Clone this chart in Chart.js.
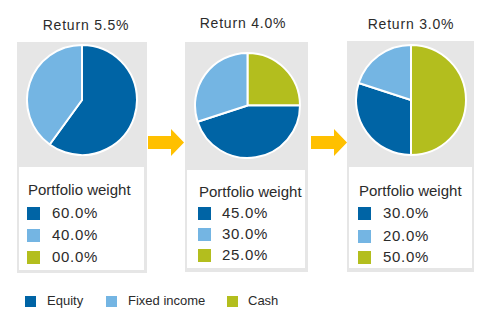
<!DOCTYPE html>
<html>
<head>
<meta charset="utf-8">
<script src="https://cdn.jsdelivr.net/npm/chart.js@4.4.0/dist/chart.umd.min.js"></script>
<style>
	body { margin: 0; background: #fff; font-family: 'Liberation Sans', Arial, sans-serif; color: #2b2b2b; }
	#stage { position: relative; width: 500px; height: 330px; overflow: hidden; }
	.abs { position: absolute; }
	.panel { position: absolute; background: #e6e6e6; }
	.inner { position: absolute; background: #fff; }
	.title { position: absolute; width: 140px; text-align: center; font-size: 14px; letter-spacing: 0.8px; line-height: 18px; }
	.heading { position: absolute; font-size: 15px; line-height: 18px; white-space: nowrap; }
	.sw { position: absolute; width: 13px; height: 13px; }
	.val { position: absolute; font-size: 15px; letter-spacing: 0.7px; line-height: 18px; }
	.leg-sw { position: absolute; width: 11px; height: 11px; }
	.leg-txt { position: absolute; font-size: 13px; line-height: 16px; white-space: nowrap; }
	canvas { position: absolute; }
</style>
</head>
<body>
<div id="stage"></div>
<script>
// Data
const categories = ['Equity', 'Fixed income', 'Cash'];
const colors = ['#0064a5', '#74b5e3', '#b3be1e'];
const returns = ['Return 5.5%', 'Return 4.0%', 'Return 3.0%'];
const equityWeights = [60, 45, 30];
const fixedWeights = [40, 30, 20];
const cashWeights = [0, 25, 50];
const weightLabels = [
	['60.0%', '40.0%', '00.0%'],
	['45.0%', '30.0%', '25.0%'],
	['30.0%', '20.0%', '50.0%']
];
// Slices go clockwise from 12 o'clock: cash, equity, fixed income.
const sliceOrder = [2, 0, 1];

// Layout of each panel (gray box, inner white box, pie, texts).
const layout = [
	{ box: [17, 42, 130, 231], inner: [19, 167, 125, 103], pie: [26, 44, 112], title: [86, 25], head: [28, 190], sw: 27, txt: 52, rows: [213, 235, 257] },
	{ box: [185, 42, 123, 230], inner: [187, 170, 118, 98], pie: [194, 52, 107], title: [243, 23], head: [199, 192], sw: 198, txt: 222, rows: [213, 234, 255] },
	{ box: [347, 41, 127, 231], inner: [349, 167, 123, 101], pie: [355, 44, 112], title: [411, 24], head: [359, 191], sw: 358, txt: 383, rows: [213, 236, 257] }
];

const stage = document.getElementById('stage');

function el(cls, x, y, w, h) {
	const d = document.createElement('div');
	d.className = cls;
	d.style.left = x + 'px';
	d.style.top = y + 'px';
	if (w != null) d.style.width = w + 'px';
	if (h != null) d.style.height = h + 'px';
	stage.appendChild(d);
	return d;
}

function arrow(x, y) {
	// Shaft plus triangular head, tip at x + 36.
	const svg = document.createElementNS('http://www.w3.org/2000/svg', 'svg');
	svg.setAttribute('width', 40);
	svg.setAttribute('height', 30);
	svg.style.position = 'absolute';
	svg.style.left = x + 'px';
	svg.style.top = y + 'px';
	const p = document.createElementNS('http://www.w3.org/2000/svg', 'polygon');
	p.setAttribute('points', '0,7 23,7 23,0 36,13.5 23,27 23,20 0,20');
	p.setAttribute('fill', '#ffc000');
	svg.appendChild(p);
	stage.appendChild(svg);
}

const weights = [equityWeights, fixedWeights, cashWeights];

layout.forEach((L, i) => {
	el('panel', ...L.box);
	el('inner', ...L.inner);

	const t = el('title', L.title[0] - 70, L.title[1] - 9);
	t.textContent = returns[i];

	const h = el('heading', L.head[0], L.head[1] - 9);
	h.textContent = 'Portfolio weight';

	L.rows.forEach((y, k) => {
		const s = el('sw', L.sw, y - 6.5);
		s.style.background = colors[k];
		const v = el('val', L.txt, y - 9);
		v.textContent = weightLabels[i][k];
	});

	const canvas = document.createElement('canvas');
	canvas.width = L.pie[2];
	canvas.height = L.pie[2];
	canvas.style.left = L.pie[0] + 'px';
	canvas.style.top = L.pie[1] + 'px';
	stage.appendChild(canvas);

	new Chart(canvas.getContext('2d'), {
		type: 'pie',
		data: {
			labels: sliceOrder.map(k => categories[k]),
			datasets: [{
				data: sliceOrder.map(k => weights[k][i]),
				backgroundColor: sliceOrder.map(k => colors[k]),
				borderColor: '#ffffff',
				borderWidth: 2
			}]
		},
		options: {
			responsive: false,
			animation: false,
			devicePixelRatio: 1,
			layout: { padding: 0 },
			plugins: {
				legend: { display: false },
				tooltip: { enabled: false }
			}
		}
	});
});

arrow(148, 129);
arrow(311, 129);

// Bottom legend
const legendX = [25, 106, 227];
const legendTextX = [47, 128, 248];
categories.forEach((c, k) => {
	const s = el('leg-sw', legendX[k], 296);
	s.style.background = colors[k];
	const t = el('leg-txt', legendTextX[k], 293);
	t.textContent = c;
});
</script>
</body>
</html>
